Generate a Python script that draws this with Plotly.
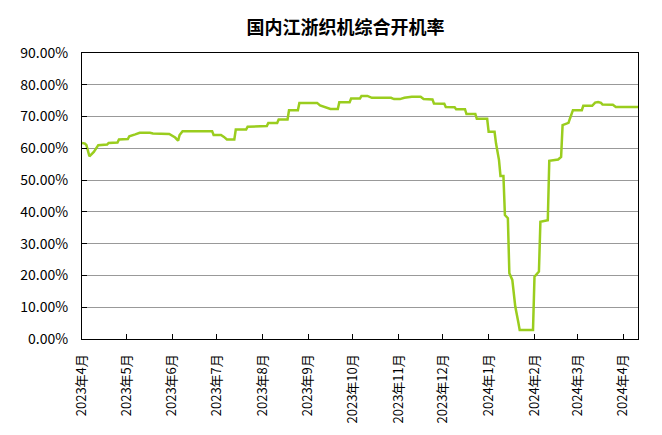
import plotly.graph_objects as go

dates = [
    "2023-04-01", "2023-04-03", "2023-04-04", "2023-04-06", "2023-04-09", "2023-04-12",
    "2023-04-18", "2023-04-19", "2023-04-25", "2023-04-26", "2023-05-02", "2023-05-03",
    "2023-05-07", "2023-05-10", "2023-05-17", "2023-05-19", "2023-05-30", "2023-06-03",
    "2023-06-05", "2023-06-06", "2023-06-08", "2023-06-28", "2023-06-29", "2023-07-04",
    "2023-07-06", "2023-07-08", "2023-07-13", "2023-07-14", "2023-07-21", "2023-07-22",
    "2023-08-04", "2023-08-05", "2023-08-11", "2023-08-12", "2023-08-18", "2023-08-19",
    "2023-08-25", "2023-08-26", "2023-09-07", "2023-09-09", "2023-09-16", "2023-09-21",
    "2023-09-22", "2023-09-29", "2023-09-30", "2023-10-06", "2023-10-07", "2023-10-11",
    "2023-10-14", "2023-10-27", "2023-10-29", "2023-11-02", "2023-11-05", "2023-11-10",
    "2023-11-16", "2023-11-18", "2023-11-24", "2023-11-25", "2023-12-02", "2023-12-03",
    "2023-12-09", "2023-12-10", "2023-12-16", "2023-12-17", "2023-12-23", "2023-12-24",
    "2023-12-31", "2024-01-01", "2024-01-05", "2024-01-06", "2024-01-08", "2024-01-09",
    "2024-01-11", "2024-01-12", "2024-01-14", "2024-01-15", "2024-01-17", "2024-01-19",
    "2024-01-21", "2024-01-22", "2024-01-31", "2024-02-01", "2024-02-04", "2024-02-05",
    "2024-02-10", "2024-02-11", "2024-02-17", "2024-02-19", "2024-02-20", "2024-02-24",
    "2024-02-25", "2024-02-27", "2024-03-04", "2024-03-05", "2024-03-11", "2024-03-13",
    "2024-03-15", "2024-03-17", "2024-03-18", "2024-03-25", "2024-03-27", "2024-04-11",
]

rates = [
    61.7, 61.5, 61.0, 57.5, 58.9, 61.0,
    61.2, 61.7, 61.8, 62.8, 62.9, 63.8,
    64.4, 64.9, 64.9, 64.7, 64.5, 63.4,
    62.4, 64.2, 65.4, 65.4, 64.2, 64.2,
    63.6, 62.8, 62.8, 65.9, 65.9, 66.8,
    67.0, 68.0, 68.0, 69.1, 69.1, 72.0,
    72.0, 74.3, 74.3, 73.5, 72.4, 72.4,
    74.5, 74.5, 75.7, 75.7, 76.5, 76.5,
    75.9, 75.9, 75.5, 75.5, 75.9, 76.2,
    76.2, 75.5, 75.4, 74.1, 74.0, 73.0,
    72.9, 72.3, 72.3, 70.8, 70.8, 69.3,
    69.3, 65.2, 65.2, 61.5, 56.3, 51.3,
    51.3, 39.0, 38.0, 20.7, 18.6, 10.2,
    5.4, 2.8, 2.8, 19.6, 21.2, 36.9,
    37.4, 56.1, 56.5, 57.3, 67.3, 68.0,
    69.4, 72.0, 72.0, 73.4, 73.4, 74.4,
    74.6, 74.3, 73.8, 73.7, 73.0, 73.0,
]

tick_dates = [
    "2023-04-01", "2023-05-01", "2023-06-01", "2023-07-01", "2023-08-01", "2023-09-01",
    "2023-10-01", "2023-11-01", "2023-12-01", "2024-01-01", "2024-02-01", "2024-03-01",
    "2024-04-01",
]
tick_labels = [
    "2023年4月", "2023年5月", "2023年6月", "2023年7月", "2023年8月", "2023年9月",
    "2023年10月", "2023年11月", "2023年12月", "2024年1月", "2024年2月", "2024年3月",
    "2024年4月",
]

title_text = "国内江浙织机综合开机率"

font_family = "Noto Sans CJK SC, SimSun, sans-serif"

fig = go.Figure()
fig.add_trace(go.Scatter(
    x=dates,
    y=[r / 100 for r in rates],
    mode="lines",
    line=dict(color="#9ACD1E", width=2.5),
    showlegend=False,
))

fig.update_layout(
    width=662,
    height=435,
    margin=dict(l=66, r=32, t=45, b=104),
    paper_bgcolor="white",
    plot_bgcolor="white",
    font=dict(family=font_family, size=13, color="#000000"),
    title=dict(
        text="<b>" + title_text + "</b>",
        x=0.51, xref="container", xanchor="center",
        y=0.955, yref="container", yanchor="middle",
        font=dict(family=font_family, size=18, color="#000000"),
    ),
)

fig.update_xaxes(
    type="date",
    range=["2023-04-01", "2024-04-11"],
    tickmode="array",
    tickvals=tick_dates,
    ticktext=tick_labels,
    tickangle=-90,
    ticks="inside",
    ticklen=5,
    tickcolor="#000000",
    showgrid=False,
    showline=True,
    linecolor="#000000",
    linewidth=1,
    mirror=True,
    tickfont=dict(family=font_family, size=13, color="#000000"),
    ticklabelstandoff=9,
    zeroline=False,
)

fig.update_yaxes(
    range=[0, 0.9],
    dtick=0.1,
    tick0=0,
    tickformat=".2%",
    ticks="inside",
    ticklen=5,
    tickcolor="#000000",
    showgrid=True,
    gridcolor="#999999",
    gridwidth=1,
    showline=True,
    linecolor="#000000",
    linewidth=1,
    mirror=True,
    zeroline=False,
    tickfont=dict(family=font_family, size=14, color="#000000"),
    ticklabelstandoff=10,
)

fig.write_html("out.html")
